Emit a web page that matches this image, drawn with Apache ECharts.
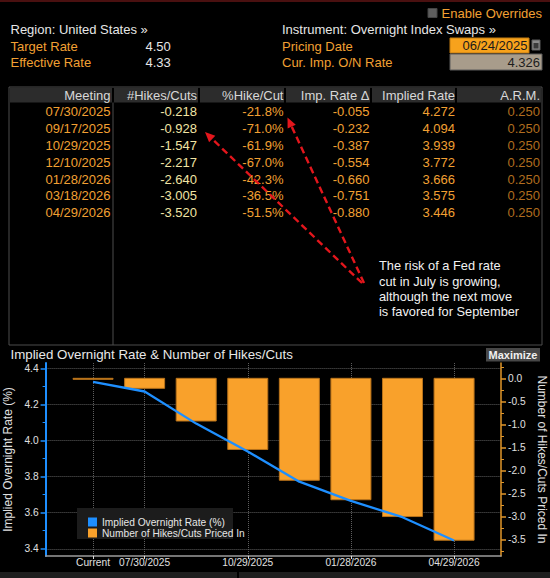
<!DOCTYPE html>
<html><head><meta charset="utf-8">
<script src="https://cdn.jsdelivr.net/npm/echarts@6/dist/echarts.min.js"></script>
<style>html,body{margin:0;padding:0;background:#000;overflow:hidden}#c{width:550px;height:578px}</style>
</head><body><div id="c"></div>
<script>
// ---------------- data ----------------
const targetRate = 4.50;
const effectiveRate = 4.33;
const pricingDate = '06/24/2025';
const currentImpliedRate = 4.326;
const meetings = ['07/30/2025','09/17/2025','10/29/2025','12/10/2025','01/28/2026','03/18/2026','04/29/2026'];
const hikesCuts = [-0.218,-0.928,-1.547,-2.217,-2.640,-3.005,-3.520];
const pctHikeCut = [-21.8,-71.0,-61.9,-67.0,-42.3,-36.5,-51.5];
const impRateDelta = [-0.055,-0.232,-0.387,-0.554,-0.660,-0.751,-0.880];
const impliedRate = [4.272,4.094,3.939,3.772,3.666,3.575,3.446];
const arm = [0.250,0.250,0.250,0.250,0.250,0.250,0.250];
const tableHeaders = ['Meeting','#Hikes/Cuts','%Hike/Cut','Imp. Rate \u0394','Implied Rate','A.R.M.'];
const categories = ['Current'].concat(meetings);
const rateSeries = [currentImpliedRate].concat(impliedRate);
const hikesSeries = [0].concat(hikesCuts);
const xTickLabels = ['Current','07/30/2025','10/29/2025','01/28/2026','04/29/2026'];
const rateTicks = [3.4,3.6,3.8,4.0,4.2,4.4];
const rateMinorTicks = [3.5,3.7,3.9,4.1,4.3];
const hikeTicks = [0,-0.5,-1.0,-1.5,-2.0,-2.5,-3.0,-3.5];
const hikeMinorTicks = [0.25,-0.25,-0.75,-1.25,-1.75,-2.25,-2.75,-3.25,-3.75];
const annotationLines = ['The risk of a Fed rate','cut in July is growing,','although the next move','is favored for September'];

// ---------------- fonts ----------------
function hasFont(name){
  const c=document.createElement('canvas').getContext('2d');
  const s='Number of Hikes/Cuts 0123456789';
  c.font='20px monospace'; const a=c.measureText(s).width;
  c.font='20px "'+name+'", monospace'; const b=c.measureText(s).width;
  return Math.abs(a-b)>0.5;
}
const NARROW = hasFont('Liberation Sans Narrow');
const CF = NARROW ? '"Liberation Sans Narrow", "Liberation Sans", sans-serif' : '"Liberation Sans", sans-serif';
const CFS = NARROW ? 11.5 : 10.2;
const MF = '"Liberation Sans", Arial, sans-serif';

const ORANGE = '#f2a033', WHITE = '#e6e6e6', PALE = '#f1e4a4', ARMC = '#b06d1f', BLUE = '#1e8fff', BAR = '#f9a12b', AXO = '#e0962a';

// ---------------- graphic (header, table, annotation) ----------------
const g = [];
function txt(x,y,s,fill,o){o=o||{};g.push({type:'text',x:x,y:y,silent:true,z:20,style:{text:s,fill:fill,font:(o.weight||'normal')+' '+(o.size||13)+'px '+MF,align:o.align||'left',verticalAlign:'middle'}});}
function rect(x,y,w,h,fill,stroke,lw,z){g.push({type:'rect',silent:true,z:z||2,shape:{x:x,y:y,width:w,height:h},style:{fill:fill||'none',stroke:stroke||'none',lineWidth:lw||1}});}
function line(x1,y1,x2,y2,stroke,lw,dash,z){g.push({type:'line',silent:true,z:z||3,shape:{x1:x1,y1:y1,x2:x2,y2:y2},style:{stroke:stroke,lineWidth:lw||1,lineDash:dash||null}});}

rect(0,0,550,2,'#4a1010');
// header
rect(428,8.5,9,9,'#5e5e5e','#444');
txt(542,13.5,'Enable Overrides',ORANGE,{align:'right'});
txt(10.5,29.5,'Region: United States \u00bb',WHITE);
txt(10.5,46,'Target Rate',ORANGE);
txt(145.5,46,targetRate.toFixed(2),WHITE);
txt(10.5,62.5,'Effective Rate',ORANGE);
txt(145.5,62.5,effectiveRate.toFixed(2),WHITE);
txt(282,29.5,'Instrument: Overnight Index Swaps \u00bb',WHITE);
txt(282,46,'Pricing Date',ORANGE);
txt(282,62.5,'Cur. Imp. O/N Rate',ORANGE);
rect(450,38,79,15,'#f7a21c','#c07a10');
txt(527.5,45.5,pricingDate,'#1a1a1a',{align:'right'});
rect(532,40,8,10,'#8a8a8a','#5a5a5a');
rect(533.5,43,5,5.5,'#3a3a3a');
rect(450,54,92,16,'#a89c8b','#5a5a5a');
txt(540,62,currentImpliedRate.toFixed(3),'#1e1e1e',{align:'right'});

// table
const colBounds = [9,113,199,285,371,456,542];
const colRight = [110.5,197,283.5,369.5,455,540];
rect(9,87,533,258,'none','#4d4d4d',1,2);
for(let i=0;i<6;i++){ rect(colBounds[i]+1,87.5,colBounds[i+1]-colBounds[i]-2,15,'#2c2c2c',null,1,2); }
line(113,102.5,113,345,'#4d4d4d',1);
tableHeaders.forEach((h,i)=>txt(colRight[i],95.2,h,'#d8d8d8',{align:'right'}));
const rowY0 = 111.8, rowH = 16.83;
meetings.forEach((m,r)=>{
  const y = rowY0 + r*rowH;
  txt(colRight[0],y,m,ORANGE,{align:'right'});
  txt(colRight[1],y,hikesCuts[r].toFixed(3),PALE,{align:'right'});
  txt(colRight[2],y,pctHikeCut[r].toFixed(1)+'%',ORANGE,{align:'right'});
  txt(colRight[3],y,impRateDelta[r].toFixed(3),ORANGE,{align:'right'});
  txt(colRight[4],y,impliedRate[r].toFixed(3),ORANGE,{align:'right'});
  txt(colRight[5],y,arm[r].toFixed(3),ARMC,{align:'right'});
});

// annotation arrows
function arrow(x1,y1,x2,y2){
  const a=Math.atan2(y2-y1,x2-x1), L=10, W=4.5;
  const bx=x2-L*Math.cos(a), by=y2-L*Math.sin(a);
  line(x1,y1,bx,by,'#e3161c',2.4,[7,4],30);
  g.push({type:'polygon',silent:true,z:30,shape:{points:[[x2,y2],[bx+W*Math.sin(a),by-W*Math.cos(a)],[bx-W*Math.sin(a),by+W*Math.cos(a)]]},style:{fill:'#e3161c'}});
}
arrow(362,283,205,132);
arrow(364,283,287.5,117.5);
annotationLines.forEach((s,i)=>g.push({type:'text',x:379,y:265.7+i*15.3,silent:true,z:20,style:{text:s,fill:'#f2f2f2',font:'12.8px "Liberation Sans", Arial, sans-serif',align:'left',verticalAlign:'middle'}}));

// chart panel title
txt(10.5,354,'Implied Overnight Rate & Number of Hikes/Cuts','#e8e8e8',{size:13.3});
rect(486,348,54,13.5,'#474747');
txt(513,354.8,'Maximize','#f0f0f0',{size:11,weight:'bold',align:'center'});
// legend box (drawn under the legend)
rect(77,508,156,31,'#1c1c1c',null,1,1);
// bottom strip
rect(0,572,550,6,'#1f1f1f');
line(238,572,238,578,'#000',2);

// ---------------- chart ----------------
const xTickIdx = xTickLabels.map(l=>categories.indexOf(l));
const lblStyle = {color:'#e0e0e0',fontSize:CFS,fontFamily:CF};
const nameStyle = {color:'#e0e0e0',fontSize:12,fontFamily:MF};
const RMIN=3.36, RMAX=4.43, HMIN=-3.863, HMAX=0.333, XMIN=-0.92, XMAX=7.91;
const BAR_W = 40;
const gridBox = {left:45.6,right:49,top:363,bottom:22,containLabel:false,outerBoundsMode:'none'};

const option = {
  backgroundColor:'#000',
  animation:false,
  grid:[Object.assign({},gridBox), Object.assign({},gridBox)],
  legend:{
    left:83, top:512, orient:'vertical', icon:'rect', itemWidth:9, itemHeight:9, itemGap:1,
    textStyle:{color:'#e6e6e6',fontSize:CFS,fontFamily:CF},
    data:['Implied Overnight Rate (%)','Number of Hikes/Cuts Priced In']
  },
  xAxis:[
    {type:'value', gridIndex:0, min:XMIN, max:XMAX,
     axisLine:{show:true,onZero:false,lineStyle:{color:'#9c9c9c',width:1.5}},
     axisTick:{show:true,customValues:xTickIdx,length:3,lineStyle:{color:'#dddddd'}},
     axisLabel:{customValues:xTickIdx,formatter:v=>categories[Math.round(v)],margin:1.5,...lblStyle},
     splitLine:{show:true,lineStyle:{color:'#5e5e5e',type:'dotted',width:1}}},
    {type:'value', gridIndex:1, min:XMIN, max:XMAX, show:false}
  ],
  yAxis:[
    {type:'value',gridIndex:0,position:'left',min:RMIN,max:RMAX,
     name:'Implied Overnight Rate (%)',nameLocation:'middle',nameGap:31,nameTextStyle:nameStyle,
     axisLine:{show:true,onZero:false,lineStyle:{color:BLUE,width:2}},
     axisTick:{show:true,customValues:rateTicks,length:5,lineStyle:{color:BLUE,width:1.5}},
     axisLabel:{customValues:rateTicks,formatter:v=>v.toFixed(1),margin:7,...lblStyle},
     splitLine:{show:true,lineStyle:{color:'#5e5e5e',type:'dotted',width:1}}},
    {type:'value',gridIndex:0,position:'right',min:HMIN,max:HMAX,
     name:'Number of Hikes/Cuts Priced In',nameLocation:'middle',nameGap:33,nameRotate:-90,nameTextStyle:nameStyle,
     axisLine:{show:true,onZero:false,lineStyle:{color:AXO,width:1.5}},
     axisTick:{show:true,customValues:hikeTicks,length:5,lineStyle:{color:AXO,width:1.5}},
     axisLabel:{customValues:hikeTicks,formatter:v=>v.toFixed(1),margin:7,...lblStyle},
     splitLine:{show:false}},
    {type:'value',gridIndex:1,position:'left',min:RMIN,max:RMAX,
     axisLine:{show:false,onZero:false},axisTick:{show:true,customValues:rateMinorTicks,length:3,lineStyle:{color:BLUE,width:1}},
     axisLabel:{show:false},splitLine:{show:false}},
    {type:'value',gridIndex:1,position:'right',min:HMIN,max:HMAX,
     axisLine:{show:false,onZero:false},axisTick:{show:true,customValues:hikeMinorTicks,length:3,lineStyle:{color:AXO,width:1}},
     axisLabel:{show:false},splitLine:{show:false}}
  ],
  series:[
    {type:'custom',name:'Number of Hikes/Cuts Priced In',xAxisIndex:0,yAxisIndex:1,
     data:categories.map((c,i)=>[i,hikesSeries[i]]),
     encode:{x:0,y:1},
     itemStyle:{color:BAR},
     renderItem:function(params,api){
       const i=api.value(0), v=api.value(1);
       const p0=api.coord([i,0]), p1=api.coord([i,v]);
       let top=Math.min(p0[1],p1[1]), h=Math.abs(p1[1]-p0[1]);
       if(h<1){h=1;}
       return {type:'rect',shape:{x:p0[0]-BAR_W/2,y:top,width:BAR_W,height:h},
               style:{fill:BAR,stroke:'#b8721a',lineWidth:1}};
     },z:2},
    {type:'line',name:'Implied Overnight Rate (%)',xAxisIndex:0,yAxisIndex:0,
     data:categories.map((c,i)=>[i,rateSeries[i]]),
     symbol:'none',showSymbol:false,
     lineStyle:{color:BLUE,width:2.3},itemStyle:{color:BLUE},z:5}
  ],
  graphic:{elements:g}
};
const chart = echarts.init(document.getElementById('c'),null,{renderer:'svg'});
chart.setOption(option);
</script></body></html>
